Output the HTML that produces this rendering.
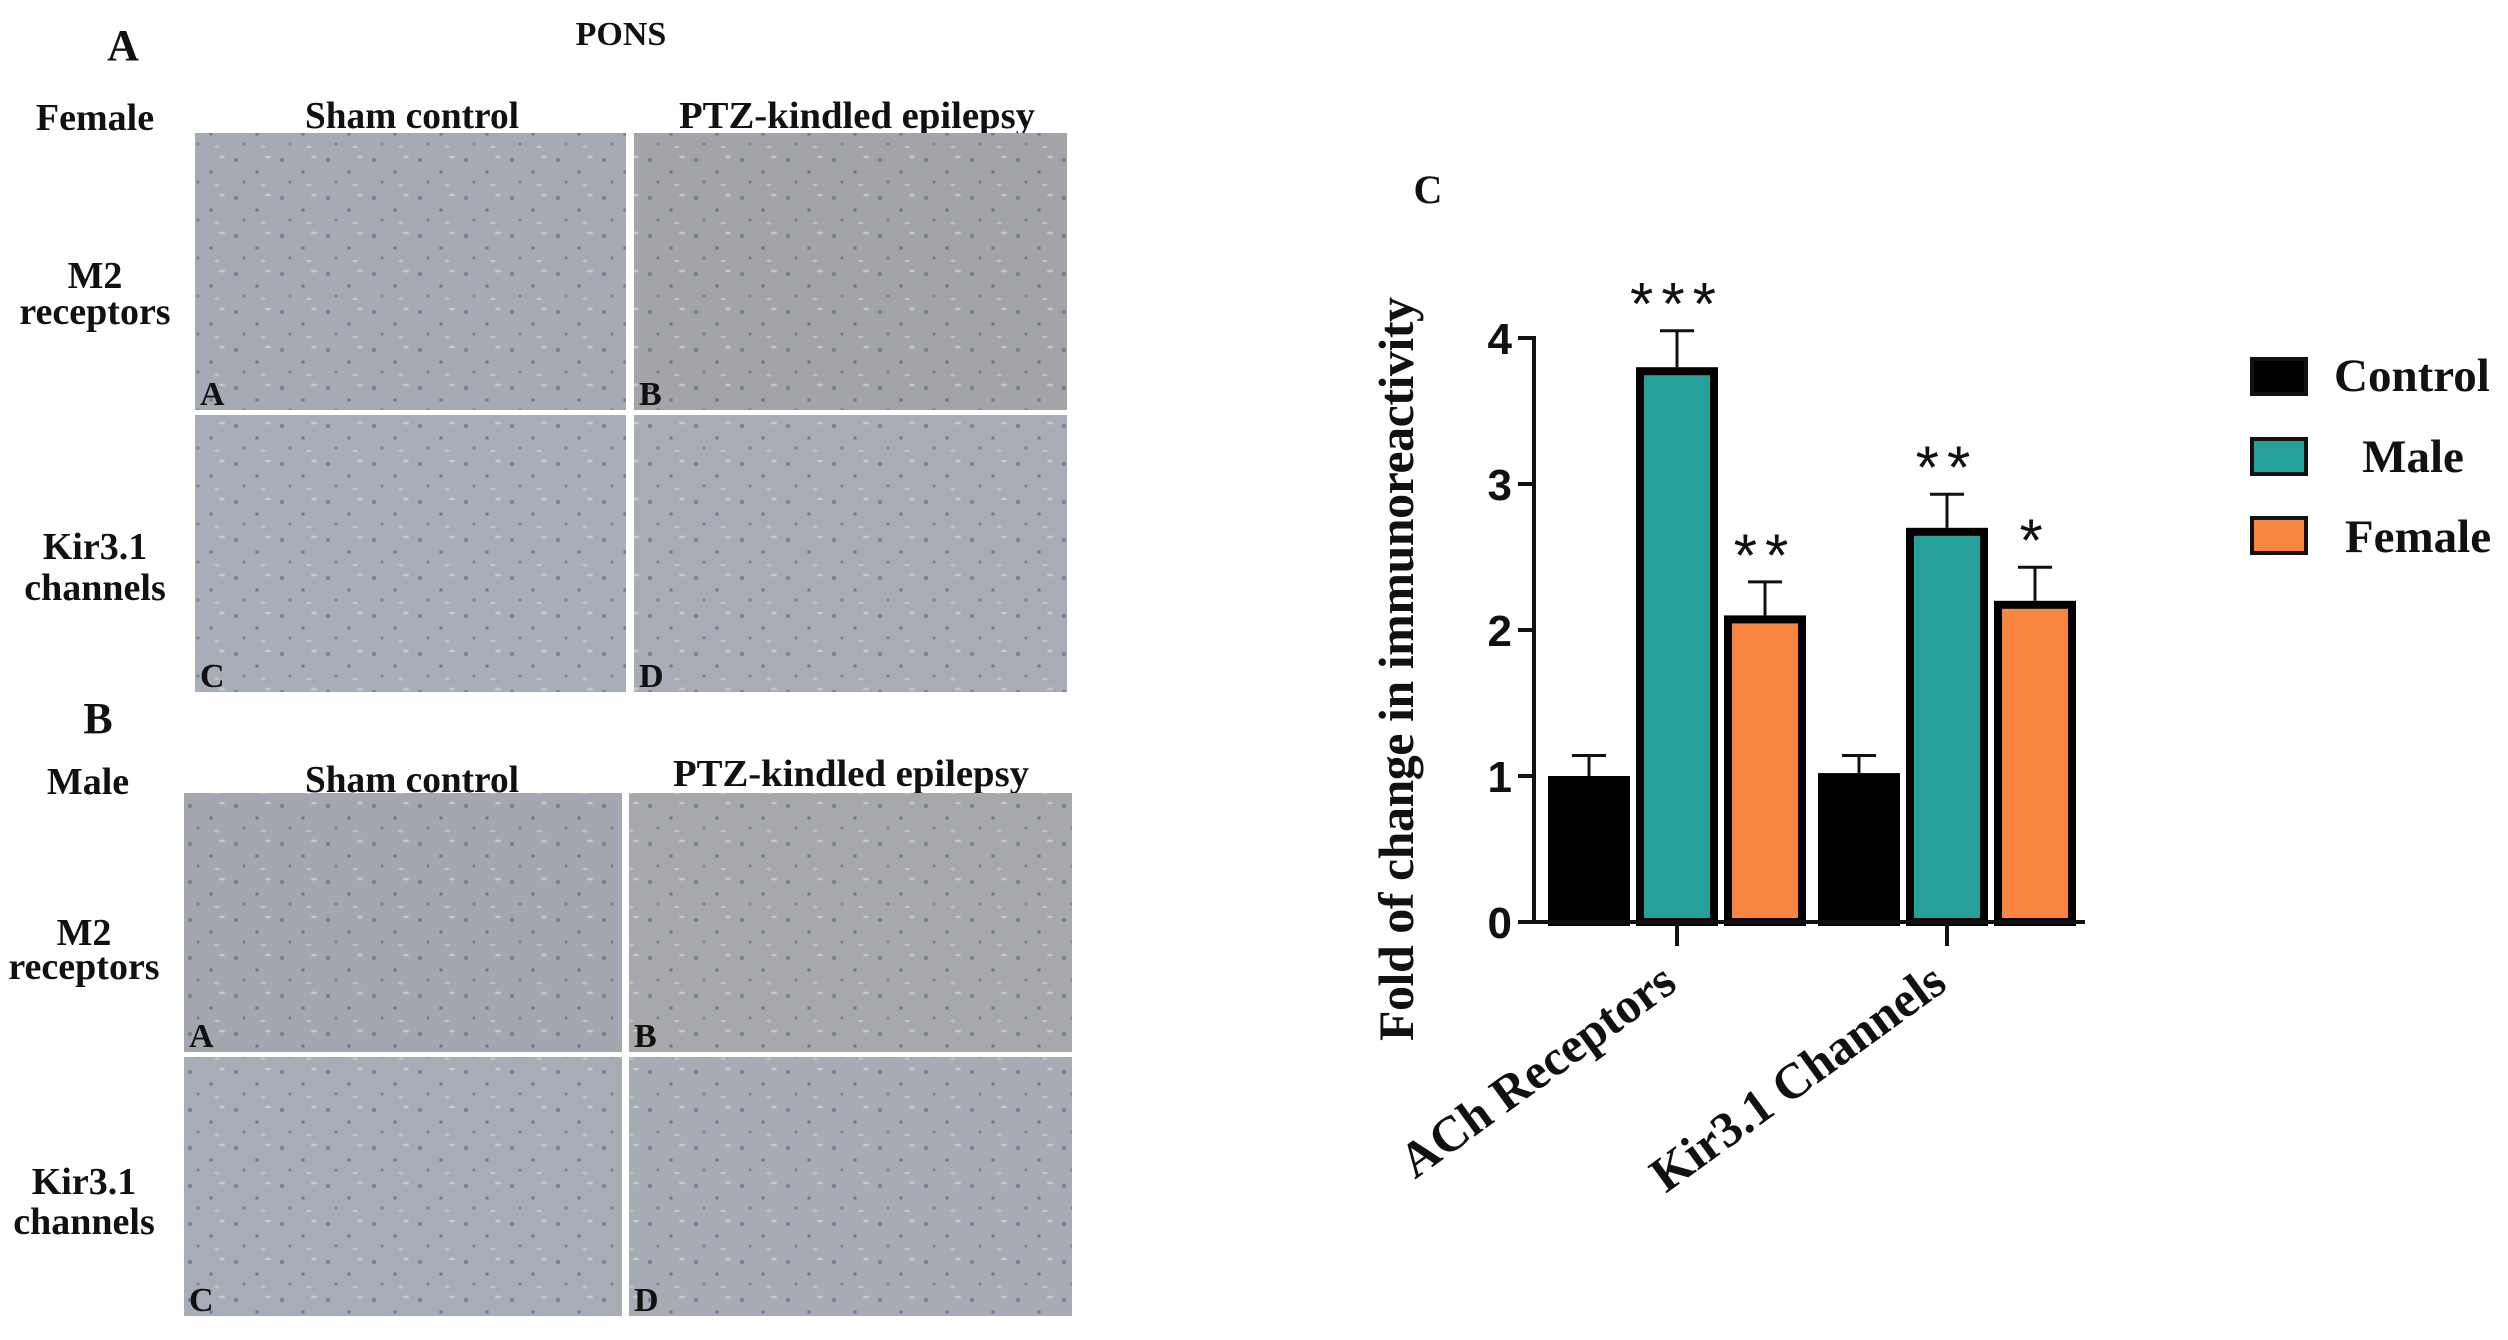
<!DOCTYPE html>
<html><head><meta charset="utf-8"><style>
html,body{margin:0;padding:0;background:#fff;}
svg{display:block;}
text{font-family:"Liberation Serif",serif;font-weight:bold;fill:#111;}
.sans{font-family:"Liberation Sans",sans-serif;}
.star{font-family:"Liberation Sans",sans-serif;font-weight:normal;}
</style></head><body>
<svg id="fig" width="2508" height="1340" viewBox="0 0 2508 1340" xmlns="http://www.w3.org/2000/svg">
<defs>
<pattern id="tex" width="46" height="38" patternUnits="userSpaceOnUse">
<circle cx="6" cy="8" r="2.2" fill="#5e6690" opacity="0.6"/>
<circle cx="27" cy="20" r="1.8" fill="#4c5489" opacity="0.55"/>
<ellipse cx="38" cy="5" rx="3" ry="1.5" fill="#e2e5ea" opacity="0.5"/>
<circle cx="14" cy="30" r="1.6" fill="#555b78" opacity="0.5"/>
<ellipse cx="33" cy="33" rx="2.5" ry="1.2" fill="#dfe2e8" opacity="0.45"/>
</pattern>
</defs>

<!-- Panel A -->
<g>
<text x="123" y="60" font-size="44" text-anchor="middle">A</text>
<text x="621" y="45" font-size="34" text-anchor="middle">PONS</text>
<text x="95" y="130" font-size="38" text-anchor="middle">Female</text>
<text x="412" y="128" font-size="38" text-anchor="middle" textLength="214" lengthAdjust="spacingAndGlyphs">Sham control</text>
<text x="857" y="128" font-size="38" text-anchor="middle" textLength="356" lengthAdjust="spacingAndGlyphs">PTZ-kindled epilepsy</text>
<text x="95" y="288" font-size="38" text-anchor="middle">M2</text>
<text x="95" y="324" font-size="38" text-anchor="middle">receptors</text>
<text x="95" y="559" font-size="38" text-anchor="middle">Kir3.1</text>
<text x="95" y="600" font-size="38" text-anchor="middle">channels</text>
<g><rect x="195" y="133" width="431" height="277" fill="#a5aab3"/><rect x="195" y="133" width="431" height="277" fill="url(#tex)"/><text x="200" y="405" font-size="34">A</text></g>
<g><rect x="634" y="133" width="433" height="277" fill="#a3a4a7"/><rect x="634" y="133" width="433" height="277" fill="url(#tex)"/><text x="639" y="405" font-size="34">B</text></g>
<g><rect x="195" y="415" width="431" height="277" fill="#a8aeb8"/><rect x="195" y="415" width="431" height="277" fill="url(#tex)"/><text x="200" y="687" font-size="34">C</text></g>
<g><rect x="634" y="415" width="433" height="277" fill="#a7acb5"/><rect x="634" y="415" width="433" height="277" fill="url(#tex)"/><text x="639" y="687" font-size="34">D</text></g>
</g>

<!-- Panel B -->
<g>
<text x="98" y="733" font-size="44" text-anchor="middle">B</text>
<text x="88" y="794" font-size="38" text-anchor="middle">Male</text>
<text x="412" y="792" font-size="38" text-anchor="middle" textLength="214" lengthAdjust="spacingAndGlyphs">Sham control</text>
<text x="851" y="786" font-size="38" text-anchor="middle" textLength="356" lengthAdjust="spacingAndGlyphs">PTZ-kindled epilepsy</text>
<text x="84" y="945" font-size="38" text-anchor="middle">M2</text>
<text x="84" y="979" font-size="38" text-anchor="middle">receptors</text>
<text x="84" y="1194" font-size="38" text-anchor="middle">Kir3.1</text>
<text x="84" y="1234" font-size="38" text-anchor="middle">channels</text>
<g><rect x="184" y="793" width="438" height="259" fill="#a4a7b0"/><rect x="184" y="793" width="438" height="259" fill="url(#tex)"/><text x="189" y="1047" font-size="34">A</text></g>
<g><rect x="629" y="793" width="443" height="259" fill="#a6a8ab"/><rect x="629" y="793" width="443" height="259" fill="url(#tex)"/><text x="634" y="1047" font-size="34">B</text></g>
<g><rect x="184" y="1057" width="438" height="259" fill="#a7adb6"/><rect x="184" y="1057" width="438" height="259" fill="url(#tex)"/><text x="189" y="1311" font-size="34">C</text></g>
<g><rect x="629" y="1057" width="443" height="259" fill="#a6abb4"/><rect x="629" y="1057" width="443" height="259" fill="url(#tex)"/><text x="634" y="1311" font-size="34">D</text></g>
</g>

<!-- Panel C chart -->
<g id="chart">
<text x="1428" y="203" font-size="40" text-anchor="middle">C</text>
<text transform="translate(1413,669) rotate(-90)" font-size="50" text-anchor="middle" textLength="744">Fold of change in immunoreactivity</text>
</g>
<g>
<rect x="2252" y="359" width="54" height="35" fill="#000" stroke="#111" stroke-width="4"/>
<text x="2334" y="391" font-size="47">Control</text>
<rect x="2252" y="439" width="54" height="35" fill="#26a09a" stroke="#111" stroke-width="4"/>
<text x="2413" y="472" font-size="47" text-anchor="middle">Male</text>
<rect x="2252" y="518" width="54" height="35" fill="#f88640" stroke="#111" stroke-width="4"/>
<text x="2418" y="552" font-size="47" text-anchor="middle">Female</text>
</g>
</svg>
<script>
const categories = ["ACh Receptors", "Kir3.1 Channels"];
const seriesNames = ["Control", "Male", "Female"];
const controlValues = [1.0, 1.02];
const maleValues = [3.8, 2.7];
const femaleValues = [2.1, 2.2];
const controlErr = [0.14, 0.12];
const maleErr = [0.25, 0.23];
const femaleErr = [0.23, 0.23];
const significance = [["", "***", "**"], ["", "**", "*"]];
const yTicks = [0, 1, 2, 3, 4];

const NS = "http://www.w3.org/2000/svg";
const chart = document.getElementById("chart");
const x0 = 1534, xEnd = 2085, y0 = 922, unit = 146;
const groupCenters = [1677, 1947];
const barW = 82, barStep = 88;
const colors = ["#000000", "#26a09a", "#f88640"];
const values = [controlValues, maleValues, femaleValues];
const errs = [controlErr, maleErr, femaleErr];
function yScale(v) { return y0 - v * unit; }
function xScale(ci, si) { return groupCenters[ci] + (si - 1) * barStep; }
function mk(tag, attrs) { const e = document.createElementNS(NS, tag); for (const k in attrs) e.setAttribute(k, attrs[k]); chart.appendChild(e); return e; }

const ya = mk("line", {x1: x0, y1: yScale(4) - 2, x2: x0, y2: y0 + 2, stroke: "#111", "stroke-width": 4});


yTicks.forEach(t => {
  const tl = mk("line", {x1: x0 - 16, y1: yScale(t), x2: x0, y2: yScale(t), stroke: "#111", "stroke-width": 4});
  
  
  const lb = mk("text", {x: x0 - 22, y: yScale(t) + 16, "font-size": 44, "text-anchor": "end", class: "sans"});
  lb.textContent = t;
  
  
});

categories.forEach((c, ci) => {
  values.forEach((vals, si) => {
    const cx = xScale(ci, si);
    const v = vals[ci], e = errs[si][ci];
    const el = mk("line", {x1: cx, y1: yScale(v + e), x2: cx, y2: yScale(v), stroke: "#111", "stroke-width": 3});
    
    
    const cap = mk("line", {x1: cx - 17, y1: yScale(v + e), x2: cx + 17, y2: yScale(v + e), stroke: "#111", "stroke-width": 3});
    
    
    const r = mk("rect", {x: cx - barW / 2 + 4, y: yScale(v) + 4, width: barW - 8, height: y0 - yScale(v) - 4, fill: colors[si], stroke: "#000", "stroke-width": 8});
    
    
    const s = significance[ci][si];
    if (s) {
      const st = mk("text", {x: cx, y: yScale(v + e) - 6, "font-size": 60, "text-anchor": "middle", class: "star", "letter-spacing": "8"});
      st.textContent = s;
      
      
    }
  });
  const tk = mk("line", {x1: groupCenters[ci], y1: y0, x2: groupCenters[ci], y2: y0 + 24, stroke: "#111", "stroke-width": 4});
  
  
  const xl = mk("text", {transform: "translate(" + (groupCenters[ci] + 2) + "," + (y0 + 66) + ") rotate(-36)", "font-size": 50, "text-anchor": "end"});
  xl.textContent = c;
  
  
});
const xa = mk("line", {x1: x0 - 16, y1: y0, x2: xEnd, y2: y0, stroke: "#111", "stroke-width": 4});


</script>
</body></html>
